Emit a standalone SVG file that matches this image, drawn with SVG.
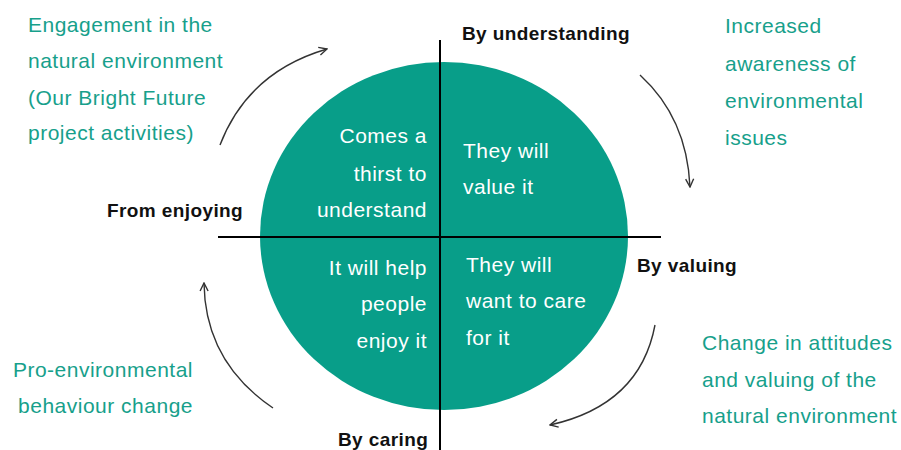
<svg xmlns="http://www.w3.org/2000/svg" width="901" height="450" viewBox="0 0 901 450">
<style>
.t{font-family:"Liberation Sans",Arial,sans-serif;font-size:21px;letter-spacing:0.5px;fill:#17a08b}
.w{font-family:"Liberation Sans",Arial,sans-serif;font-size:21px;letter-spacing:0.5px;fill:#ffffff}
.b{font-family:"Liberation Sans",Arial,sans-serif;font-size:19px;letter-spacing:0.4px;font-weight:bold;fill:#111111}
.r{text-anchor:end}
.arc{fill:none;stroke:#333333;stroke-width:1.4;marker-end:url(#ah)}
.ax{stroke:#000000;stroke-width:2}
</style>
<defs>
<marker id="ah" viewBox="0 0 10 10" refX="9" refY="5" markerWidth="10" markerHeight="10" markerUnits="userSpaceOnUse" orient="auto">
<path d="M1,1 L9,5 L1,9" fill="none" stroke="#333333" stroke-width="1.4"/>
</marker>
</defs>
<rect width="901" height="450" fill="#ffffff"/>
<g id="circle">
<ellipse cx="444" cy="236" rx="184" ry="174" fill="#089e89"/>
</g>
<g id="axes">
<line class="ax" x1="440" y1="40" x2="440" y2="450"/>
<line class="ax" x1="218" y1="237" x2="661" y2="237"/>
</g>
<g id="connectors">
<path class="arc" d="M220,145 Q248,72 327,49"/>
<path class="arc" d="M640,75 Q687,118 690,187"/>
<path class="arc" d="M655,325 Q640,405 550,425"/>
<path class="arc" d="M273,408 Q205,362 204,283"/>
</g>
<g id="q-top-left">
<text class="w r" x="427" y="143">Comes a</text>
<text class="w r" x="427" y="181">thirst to</text>
<text class="w r" x="427" y="217">understand</text>
</g>
<g id="q-top-right">
<text class="w" x="463" y="158">They will</text>
<text class="w" x="463" y="194">value it</text>
</g>
<g id="q-bottom-left">
<text class="w r" x="427" y="275">It will help</text>
<text class="w r" x="427" y="311">people</text>
<text class="w r" x="427" y="348">enjoy it</text>
</g>
<g id="q-bottom-right">
<text class="w" x="466" y="272">They will</text>
<text class="w" x="466" y="308">want to care</text>
<text class="w" x="466" y="345">for it</text>
</g>
<g id="by-understanding"><text class="b" x="462" y="40">By understanding</text></g>
<g id="by-valuing"><text class="b" x="637" y="272">By valuing</text></g>
<g id="by-caring"><text class="b" x="338" y="446">By caring</text></g>
<g id="from-enjoying"><text class="b" x="107" y="217">From enjoying</text></g>
<g id="engagement">
<text class="t" x="28" y="32">Engagement in the</text>
<text class="t" x="28" y="68">natural environment</text>
<text class="t" x="28" y="105">(Our Bright Future</text>
<text class="t" x="28" y="140">project activities)</text>
</g>
<g id="awareness">
<text class="t" x="725" y="33">Increased</text>
<text class="t" x="725" y="71">awareness of</text>
<text class="t" x="725" y="108">environmental</text>
<text class="t" x="725" y="145">issues</text>
</g>
<g id="attitudes">
<text class="t" x="702" y="350">Change in attitudes</text>
<text class="t" x="702" y="387">and valuing of the</text>
<text class="t" x="702" y="423">natural environment</text>
</g>
<g id="behaviour">
<text class="t r" x="193" y="377">Pro-environmental</text>
<text class="t r" x="193" y="413">behaviour change</text>
</g>
</svg>
